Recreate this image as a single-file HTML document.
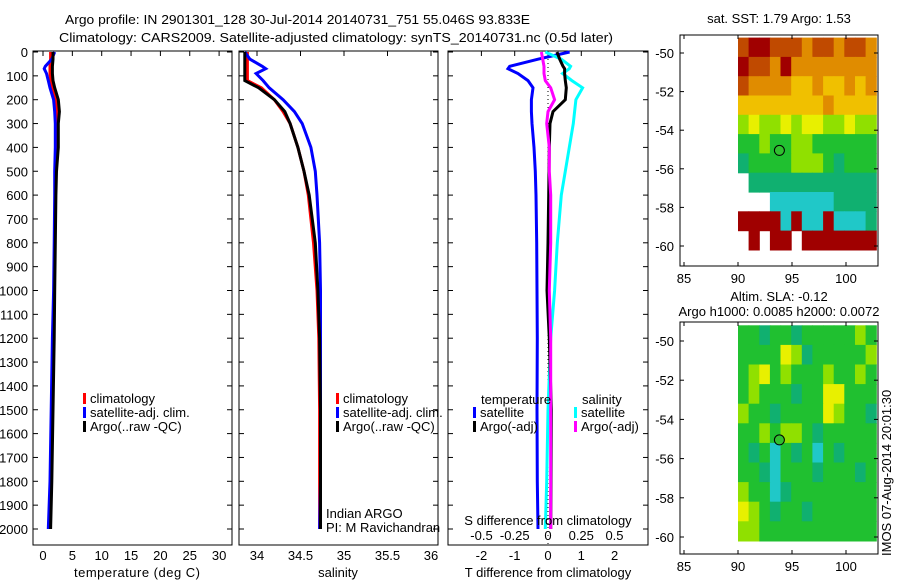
<!DOCTYPE html>
<html><head><meta charset="utf-8"><style>
html,body{margin:0;padding:0;background:#fff}
svg text{font-family:"Liberation Sans",sans-serif;font-size:13px;fill:#000}
</style></head><body>
<svg id="fig" width="900" height="580" xmlns="http://www.w3.org/2000/svg">
<text x="65" y="24" textLength="465" lengthAdjust="spacingAndGlyphs">Argo profile: IN 2901301_128 30-Jul-2014 20140731_751 55.046S 93.833E</text>
<text x="59" y="42" textLength="554" lengthAdjust="spacingAndGlyphs">Climatology: CARS2009. Satellite-adjusted climatology: synTS_20140731.nc (0.5d later)</text>
<g id="g1"></g>
<g id="g2"></g>
<g id="g3"></g>
<g id="g4"></g>
<g id="g5"></g>
<text x="548" y="525" text-anchor="middle">S difference from climatology</text>
<text x="548" y="577" text-anchor="middle">T difference from climatology</text>
<text x="137" y="577" text-anchor="middle" textLength="126">temperature (deg C)</text>
<text x="338" y="577" text-anchor="middle">salinity</text>
<text x="326" y="518">Indian ARGO</text>
<text x="326" y="532">PI: M Ravichandran</text>
<text x="779" y="23" text-anchor="middle">sat. SST: 1.79 Argo: 1.53</text>
<text x="779" y="301" text-anchor="middle">Altim. SLA: -0.12</text>
<text x="779" y="316" text-anchor="middle">Argo h1000: 0.0085 h2000: 0.0072</text>
<text x="0" y="0" transform="translate(891,556) rotate(-90)">IMOS 07-Aug-2014 20:01:30</text>
</svg>
<script>
// ---- data ----
const depthTicks=[0,100,200,300,400,500,600,700,800,900,1000,1100,1200,1300,1400,1500,1600,1700,1800,1900,2000];
const tempTicks=[0,5,10,15,20,25,30];
const salTicks=[34,34.5,35,35.5,36];
const tdTicks=[-2,-1,0,1,2];
const sdTicks=[-0.5,-0.25,0,0.25,0.5];
const depths=[0,30,60,70,90,120,150,200,250,300,400,500,600,800,1000,1200,1500,1800,2000];
const tempClim=[1.3,1.3,1.2,1.2,1.2,1.3,1.6,2.2,2.4,2.4,2.3,2.2,2.1,2.0,1.9,1.8,1.6,1.4,1.2];
const tempSat=[2.0,1.5,0.4,0.2,0.6,0.9,1.2,1.8,2.0,2.1,2.1,2.0,2.0,1.9,1.8,1.6,1.4,1.2,0.9];
const tempArgo=[1.7,1.7,1.6,1.6,1.6,1.7,2.0,2.6,2.8,2.6,2.6,2.3,2.2,2.1,2.0,1.9,1.7,1.5,1.3];
const salClim=[33.89,33.89,33.89,33.89,33.89,33.89,34.05,34.2,34.3,34.38,34.47,34.54,34.59,34.65,34.69,34.71,34.72,34.72,34.72];
const salSat=[33.86,33.92,34.06,34.1,33.99,34.07,34.14,34.3,34.43,34.52,34.62,34.67,34.69,34.72,34.73,34.73,34.73,34.73,34.72];
const salArgo=[33.86,33.86,33.86,33.86,33.86,33.86,34.02,34.2,34.32,34.38,34.47,34.54,34.6,34.67,34.7,34.72,34.73,34.73,34.73];
const tDiffSat=[0.65,-0.3,-1.15,-1.2,-0.9,-0.6,-0.45,-0.5,-0.5,-0.48,-0.42,-0.38,-0.36,-0.34,-0.33,-0.32,-0.33,-0.32,-0.3];
const tDiffArgo=[0.27,0.35,0.45,0.5,0.5,0.52,0.55,0.52,0.15,0.06,0.04,0.03,0.02,0.0,-0.03,0.04,0.1,0.09,0.08];
const sDiffSat=[-0.02,0.1,0.17,0.16,0.11,0.18,0.26,0.21,0.2,0.19,0.16,0.13,0.1,0.07,0.05,0.02,0.0,-0.01,-0.02];
const sDiffArgo=[-0.05,-0.04,-0.03,-0.03,-0.03,-0.02,0.02,0.05,0.0,-0.01,0.01,0.01,0.02,0.02,0.01,0.02,0.02,0.02,0.02];
const lonTicks=[85,90,95,100];
const latTicks=[-50,-52,-54,-56,-58,-60];
const palette=['none','#a00000','#c04a00','#e08c00','#f0c000','#e8f000','#90e000','#20c030','#10b070','#20c8c8','#1060e0'];
const sstGrid=[
[2,1,1,2,2,2,3,2,2,3,2,2,3],
[1,2,2,3,1,3,3,3,3,3,3,3,3],
[2,3,3,3,3,4,4,3,4,4,3,4,3],
[4,4,4,4,4,4,4,4,3,4,4,4,4],
[6,5,6,6,5,6,5,5,6,6,5,6,6],
[7,7,6,7,7,6,6,7,7,7,7,7,7],
[8,7,7,7,7,6,6,6,7,8,7,7,7],
[0,8,8,8,8,8,8,8,8,8,8,8,8],
[0,0,0,9,9,9,9,9,9,8,8,8,8],
[1,1,1,1,9,1,9,9,1,9,9,9,8],
[0,1,0,1,1,0,1,1,1,1,1,1,1]];
const slaGrid=[
[7,7,8,7,7,8,7,7,7,7,7,6,7],
[7,7,7,7,5,6,8,7,7,7,7,7,6],
[7,6,5,7,6,7,7,7,6,7,7,6,7],
[7,6,7,7,7,8,7,7,5,5,7,7,7],
[6,7,7,8,7,7,7,7,5,6,7,7,8],
[7,7,6,7,6,6,7,8,7,7,7,7,7],
[7,8,7,9,7,8,7,9,7,8,7,7,7],
[7,7,8,9,7,7,7,8,7,7,7,8,7],
[6,7,7,9,8,7,7,7,7,7,7,7,7],
[5,6,7,8,7,7,8,7,7,7,7,7,7],
[6,6,7,7,7,7,7,7,7,7,7,7,7]];
const argoLon=93.833, argoLat=-55.046;

// ---- helpers ----
const NS='http://www.w3.org/2000/svg';
function mk(parent,tag,attrs){const e=document.createElementNS(NS,tag);for(const k in attrs)e.setAttribute(k,attrs[k]);parent.appendChild(e);return e;}
const top0=51, bot=545;
const yD=d=>52+d*0.2385;
function frame(g,x0,x1,y0,y1){
  const r=mk(g,'rect',{x:x0,y:y0,width:x1-x0,height:y1-y0,fill:'none',stroke:'#000','stroke-width':1});
  
}
function depthAxis(g,x0,x1,labels){
  depthTicks.forEach(d=>{
    mk(g,'line',{x1:x0,x2:x0+5,y1:yD(d),y2:yD(d),stroke:'#000'});
    mk(g,'line',{x1:x1,x2:x1-5,y1:yD(d),y2:yD(d),stroke:'#000'});
    if(labels){const t=mk(g,'text',{x:x0-5,y:yD(d)+5,'text-anchor':'end'});t.textContent=d;
      }
  });
}
function xAxis(g,ticks,fx,ylab,y0,y1){
  ticks.forEach(v=>{const x=fx(v);
    mk(g,'line',{x1:x,x2:x,y1:y1,y2:y1+5,stroke:'#000'});
    const t=mk(g,'text',{x:x,y:ylab,'text-anchor':'middle'});t.textContent=v;
    
  });
}
function series(g,vals,fx,color,name){
  let d='';vals.forEach((v,i)=>{d+=(i?'L':'M')+fx(v).toFixed(1)+','+yD(depths[i]).toFixed(1);});
  const p=mk(g,'path',{d:d,fill:'none',stroke:color,'stroke-width':3,'stroke-linejoin':'miter'});
  
}
function legendItem(g,x,y,color,label){
  mk(g,'rect',{x:x,y:y-10,width:3,height:11,fill:color});
  const t=mk(g,'text',{x:x+7,y:y});t.textContent=label;
  
}

// Panel 1
const g1=document.getElementById('g1');
const fT=v=>43+v*5.87;
frame(g1,33,232,top0,bot);depthAxis(g1,33,232,true);
xAxis(g1,tempTicks,fT,560,bot,top0);
series(g1,tempClim,fT,'#ff0000','temp-climatology-line');
series(g1,tempSat,fT,'#0000ff','temp-satellite-line');
series(g1,tempArgo,fT,'#000000','temp-argo-line');
legendItem(g1,83,403,'#ff0000','climatology');
legendItem(g1,83,417,'#0000ff','satellite-adj. clim.');
legendItem(g1,83,431,'#000000','Argo(..raw -QC)');

// Panel 2
const g2=document.getElementById('g2');
const fS=v=>257+(v-34)*87;
frame(g2,239,438,top0,bot);depthAxis(g2,239,438,false);
xAxis(g2,salTicks,fS,560,bot,top0);
series(g2,salClim,fS,'#ff0000','sal-climatology-line');
series(g2,salSat,fS,'#0000ff','sal-satellite-line');
series(g2,salArgo,fS,'#000000','sal-argo-line');
legendItem(g2,336,403,'#ff0000','climatology');
legendItem(g2,336,417,'#0000ff','satellite-adj. clim.');
legendItem(g2,336,431,'#000000','Argo(..raw -QC)');

// Panel 3
const g3=document.getElementById('g3');
const fTD=v=>548+v*33.3, fSD=v=>548+v*133;
frame(g3,448,648,top0,bot);depthAxis(g3,448,648,false);
xAxis(g3,tdTicks,fTD,560,bot,top0);
sdTicks.forEach(v=>{const x=fSD(v);
  const t=mk(g3,'text',{x:x,y:540,'text-anchor':'middle'});t.textContent=v;
  });
mk(g3,'line',{x1:548,x2:548,y1:top0,y2:bot,stroke:'#000','stroke-dasharray':'1,3'});
series(g3,tDiffSat,fTD,'#0000ff','tdiff-satellite-line');
series(g3,sDiffSat,fSD,'#00ffff','sdiff-satellite-line');
series(g3,tDiffArgo,fTD,'#000000','tdiff-argo-line');
series(g3,sDiffArgo,fSD,'#ff00ff','sdiff-argo-line');
{const t=mk(g3,'text',{x:481,y:404});t.textContent='temperature';}
{const t=mk(g3,'text',{x:582,y:404});t.textContent='salinity';}
legendItem(g3,473,417,'#0000ff','satellite');
legendItem(g3,473,431,'#000000','Argo(-adj)');
legendItem(g3,574,417,'#00ffff','satellite');
legendItem(g3,574,431,'#ff00ff','Argo(-adj)');

// Maps
function drawMap(g,grid,y0,y1,latRef,latScale){
  const fx=lon=>684+(lon-85)*10.8;
  const fy=lat=>latRef+(-50-lat)*latScale;
  const x0=680,x1=878;
  grid.forEach((row,r)=>row.forEach((c,k)=>{
    if(!c)return;
    const lon=90+k*(12.8/13), lat=-49.2-r;
    const cell=mk(g,'rect',{x:fx(lon).toFixed(1),y:fy(lat).toFixed(1),width:(10.8*12.8/13+0.6).toFixed(1),height:(latScale+0.6).toFixed(1),fill:palette[c]});
    
  }));
  frame(g,x0,x1,y0,y1);
  lonTicks.forEach(v=>{const x=fx(v);mk(g,'line',{x1:x,x2:x,y1:y1,y2:y1-4,stroke:'#000'});mk(g,'line',{x1:x,x2:x,y1:y0,y2:y0+4,stroke:'#000'});
    const t=mk(g,'text',{x:x,y:y1+17,'text-anchor':'middle'});t.textContent=v;});
  latTicks.forEach(v=>{const y=fy(v);mk(g,'line',{x1:x0,x2:x0+4,y1:y,y2:y,stroke:'#000'});mk(g,'line',{x1:x1,x2:x1-4,y1:y,y2:y,stroke:'#000'});
    const t=mk(g,'text',{x:x0-6,y:y+5,'text-anchor':'end'});t.textContent=v;});
  const m=mk(g,'ellipse',{cx:fx(argoLon),cy:fy(argoLat),rx:5,ry:5,fill:'#30c030',stroke:'#000'});
  
}
drawMap(document.getElementById('g4'),sstGrid,35,266,53,19.3);
drawMap(document.getElementById('g5'),slaGrid,322,554,341,19.6);
</script>
</body></html>
